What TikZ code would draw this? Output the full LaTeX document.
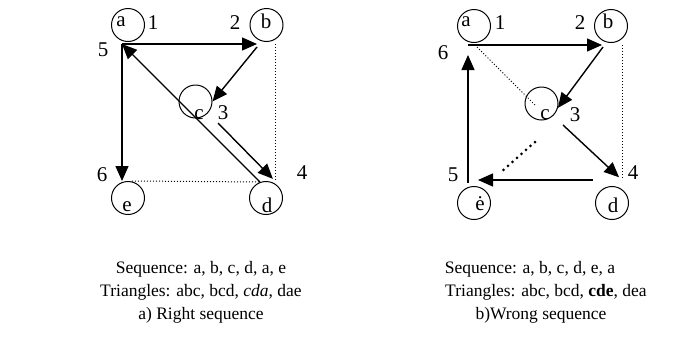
\documentclass[tikz,border=0pt]{standalone}
\usepackage{fontspec}
\setmainfont{Liberation Serif}
\usetikzlibrary{arrows.meta,positioning,calc}
\tikzset{
  vert/.style={circle,draw,line width=1pt,minimum size=33pt,inner sep=0pt},
  vname/.style={inner sep=0pt,font=\fontsize{21}{24}\selectfont},
  ordlabel/.style={inner sep=0pt,font=\fontsize{21}{24}\selectfont},
  edge/.style={-{Triangle[length=15pt,width=13pt]},line width=1.4pt},
  hiddenedge/.style={dotted,line width=1pt},
  dotedge/.style={line width=3pt,line cap=round,dash pattern=on 0pt off 6pt},
  caption/.style={inner sep=0pt,anchor=base,font=\fontsize{17.5}{21}\selectfont}
}

\begin{document}
\begin{tikzpicture}[x=1pt,y=-1pt]
\useasboundingbox (0,0) rectangle (686,349);
% a) right sequence
\coordinate (la) at (122,44);
\coordinate (lb) at (275,44);
\coordinate (ld) at (275,181);
\coordinate (le) at (122,181);
\coordinate (lbc) at (257,47);
\coordinate (lda) at (260,182);
\coordinate (lcd) at (218,123);

\node[vert] (lna) at (128,25) {};
\node[vert] (lnb) at (266.5,25) {};
\node[vert] (lnc) at (195.5,101.5) {};
\node[vert] (lnd) at (266,198) {};
\node[vert] (lne) at (128,198) {};
\node[vname] (lta) at (121,22) {a};
\node[vname] (ltb) at (266,21) {b};
\node[vname] (ltc) at (199,115) {c};
\node[vname] (ltd) at (267,205) {d};
\node[vname] (lte) at (127,207) {e};

\draw[hiddenedge] (lb)--(ld);\draw[hiddenedge] ($(le)+(10,0)$)--(lda);
\draw[edge,shorten >=18pt] (la)--(lb);
\draw[edge] (lbc)--(lnc.east);
\draw[edge] (la)--(le);
\draw[edge] (lda)--(la);
\draw[edge,shorten >=3pt] (lcd)--(ld);

\node[ordlabel] (l1) at (153,23) {1};
\node[ordlabel] (l2) at (235,23) {2};
\node[ordlabel] (l3) at (223,113) {3};
\node[ordlabel] (l4) at (302,173) {4};
\node[ordlabel] (l5) at (103,50) {5};
\node[ordlabel] (l6) at (102,175) {6};

% b) wrong sequence
\coordinate (ra) at (468,45);
\coordinate (rb) at (622,45);
\coordinate (rd) at (622,180);
\coordinate (re) at (468,180);
\coordinate (rbc) at (603,47);
\coordinate (rcd) at (563,125);
\coordinate (rde) at (593,180);
\coordinate (rac) at (477,47);
\coordinate (rca) at (535,105);
\coordinate (rce) at (535,142);
\coordinate (rec) at (500,173);

\node[vert] (rna) at (474,26) {};
\node[vert] (rnb) at (611,26) {};
\node[vert] (rnc) at (541.5,103.5) {};
\node[vert] (rnd) at (612,203) {};
\node[vert] (rne) at (474,203) {};
\node[vname] (rta) at (466,22) {a};
\node[vname] (rtb) at (608,21) {b};
\node[vname] (rtc) at (545,115) {c};
\node[vname] (rtd) at (613,205) {d};
\node[vname] (rte) at (480,204) {ė};

\draw[hiddenedge] (rb)--(rd);\draw[hiddenedge] (rac)--(rca);
\draw[dotedge] (rce)--(rec);
\draw[edge,shorten >=20pt] (ra)--(rb);
\draw[edge] (rbc)--(rnc.-15);
\draw[edge,shorten >=4pt] (rcd)--(rd);
\draw[edge,shorten >=10pt] (rde)--(re);
\draw[edge,shorten >=10pt] ($(re)+(0,3)$)--(ra);

\node[ordlabel] (r1) at (500,23) {1};
\node[ordlabel] (r2) at (580,23) {2};
\node[ordlabel] (r3) at (575,115) {3};
\node[ordlabel] (r4) at (633,173) {4};
\node[ordlabel] (r5) at (453,175) {5};
\node[ordlabel] (r6) at (443,53) {6};

% captions
\node[caption] (lcap1) at (201,273) {Sequence: a, b, c, d, a, e};
\node[caption] (lcap2) at (201,296) {Triangles: abc, bcd, \textit{cda}, dae};
\node[caption] (lcap3) at (201,319) {a) Right sequence};
\node[caption] (rcap1) at (530,273) {Sequence: a, b, c, d, e, a};
\node[caption] (rcap2) at (546,296) {Triangles: abc, bcd, \textbf{cde}, dea};
\node[caption] (rcap3) at (541,319) {b)Wrong sequence};
\end{tikzpicture}
\end{document}
